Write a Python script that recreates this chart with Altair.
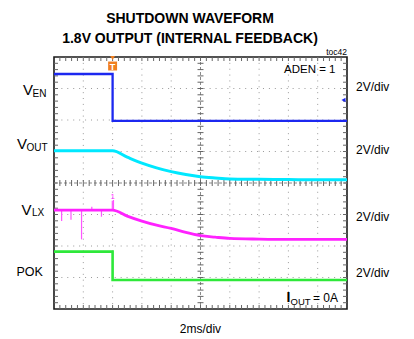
import altair as alt
import pandas as pd

# ---- data (x in divisions 0..10, y in divisions 0..8) ----
ven_t = [0.0, 2.0, 2.0, 10.0]
ven_v = [7.46, 7.46, 5.97, 5.97]

vout_t = [0.0, 2.0, 2.5, 3.0, 3.5, 4.0, 4.5, 5.0, 5.5, 6.0, 7.0, 8.0, 9.0, 10.0]
vout_v = [5.02, 5.02, 4.82, 4.63, 4.48, 4.36, 4.27, 4.20, 4.16, 4.13, 4.12, 4.11, 4.10, 4.10]

vlx_t = [0.0, 2.0, 2.5, 3.0, 3.5, 4.0, 4.5, 5.0, 5.5, 6.0, 7.0, 8.0, 9.0, 10.0]
vlx_v = [3.14, 3.14, 2.95, 2.79, 2.66, 2.56, 2.43, 2.33, 2.28, 2.24, 2.22, 2.21, 2.21, 2.21]

spike_t = [0.26, 0.58, 0.94, 1.29, 1.62, 1.99, 2.03]
spike_end = [2.79, 2.83, 2.21, 3.25, 2.93, 3.44, 3.46]
spike_base = 3.14

pok_t = [0.0, 2.0, 2.0, 10.0]
pok_v = [1.82, 1.82, 0.92, 0.92]

grid_x = [1, 2, 3, 4, 6, 7, 8, 9]
grid_y = [1, 2, 3, 5, 6, 7]
minor_x = [round(i * 0.2, 1) for i in range(1, 50)]
minor_y = [round(i * 0.2, 1) for i in range(1, 40)]

W, H = 293, 252
FONT = "Liberation Sans, Arial, sans-serif"

xs = alt.Scale(domain=[0, 10], nice=False, zero=False)
ys = alt.Scale(domain=[0, 8], nice=False, zero=False)


def trace(t, v, color, sw=2.6):
    df = pd.DataFrame({"t": t, "v": v, "i": list(range(len(t)))})
    return alt.Chart(df).mark_line(color=color, strokeWidth=sw, interpolate="monotone").encode(
        x=alt.X("t:Q", scale=xs, axis=None),
        y=alt.Y("v:Q", scale=ys, axis=None),
        order="i:Q",
    )


gx = alt.Chart(pd.DataFrame({"g": grid_x})).mark_rule(color="#9a9a9a", strokeWidth=1, strokeDash=[1, 4.86]).encode(
    x=alt.X("g:Q", scale=xs, axis=None))
gy = alt.Chart(pd.DataFrame({"g": grid_y})).mark_rule(color="#9a9a9a", strokeWidth=1, strokeDash=[1, 4.93]).encode(
    y=alt.Y("g:Q", scale=ys, axis=None))
cx = alt.Chart(pd.DataFrame({"g": [5]})).mark_rule(color="#8a8a8a", strokeWidth=1, strokeDash=[3, 2]).encode(
    x=alt.X("g:Q", scale=xs, axis=None))
cy = alt.Chart(pd.DataFrame({"g": [4]})).mark_rule(color="#8a8a8a", strokeWidth=1, strokeDash=[3, 2]).encode(
    y=alt.Y("g:Q", scale=ys, axis=None))

mx = pd.DataFrame({"m": minor_x})
my = pd.DataFrame({"m": minor_y})
tick_col = "#666666"
ticks = []
for a, b in [(0, 4), (H - 4, H), (H / 2 - 3, H / 2 + 3)]:
    ticks.append(alt.Chart(mx).mark_rule(color=tick_col, strokeWidth=1).encode(
        x=alt.X("m:Q", scale=xs, axis=None), y=alt.value(a), y2=alt.value(b)))
for a, b in [(0, 4), (W - 4, W), (W / 2 - 3, W / 2 + 3)]:
    ticks.append(alt.Chart(my).mark_rule(color=tick_col, strokeWidth=1).encode(
        y=alt.Y("m:Q", scale=ys, axis=None), x=alt.value(a), x2=alt.value(b)))

spk = alt.Chart(pd.DataFrame({"t": spike_t, "e": spike_end, "b": [spike_base] * len(spike_t)})).mark_rule(
    color="#ff55ff", strokeWidth=1.2).encode(
    x=alt.X("t:Q", scale=xs, axis=None), y=alt.Y("b:Q", scale=ys, axis=None), y2="e:Q")

layers = [gx, gy, cx, cy] + ticks + [
    trace(ven_t, ven_v, "#1c28f0", 2.3),
    trace(vout_t, vout_v, "#00e8ff", 3.0),
    spk,
    trace(vlx_t, vlx_v, "#ff22ff", 2.8),
    trace(pok_t, pok_v, "#2ee83a", 2.6),
]


def txt(s, x, y, size=12, align="left", weight="normal", color="black", baseline="middle", font=FONT):
    return alt.Chart(pd.DataFrame({"s": [s]})).mark_text(
        align=align, baseline=baseline, fontSize=size, fontWeight=weight, color=color, font=font
    ).encode(text="s:N", x=alt.value(x), y=alt.value(y))


# trigger marker and channel marker
trig = alt.Chart(pd.DataFrame({"t": [2.0]}))
layers += [
    trig.mark_point(shape="triangle-down", filled=True, color="#f07f20", size=22, opacity=1).encode(
        x=alt.X("t:Q", scale=xs, axis=None), y=alt.value(1)),
    trig.mark_square(color="#f07f20", size=80, opacity=1).encode(
        x=alt.X("t:Q", scale=xs, axis=None), y=alt.value(9)),
    trig.mark_text(text="T", color="white", fontSize=9, fontWeight="bold", font=FONT).encode(
        x=alt.X("t:Q", scale=xs, axis=None), y=alt.value(9.5)),
    trig.mark_text(text="1", color="#ff33ff", fontSize=8, font=FONT).encode(
        x=alt.X("t:Q", scale=xs, axis=None), y=alt.value(140)),
    alt.Chart(pd.DataFrame({"t": [9.88]})).mark_point(shape="triangle-left", filled=True, color="#1c28f0",
                                                      size=22, opacity=1).encode(
        x=alt.X("t:Q", scale=xs, axis=None), y=alt.value(43)),
]

# texts
layers += [
    txt("SHUTDOWN WAVEFORM", 136, -34, size=14, align="center", weight="bold", baseline="alphabetic"),
    txt("1.8V OUTPUT (INTERNAL FEEDBACK)", 136, -14, size=14, align="center", weight="bold", baseline="alphabetic"),
    txt("toc42", 293, -2, size=8.5, align="right", baseline="alphabetic"),
    txt("ADEN = 1", 230, 16, size=11.5, baseline="alphabetic"),
    txt("2V/div", 302, 30, size=12),
    txt("2V/div", 302, 93, size=12),
    txt("2V/div", 302, 160, size=12),
    txt("2V/div", 302, 216, size=12),
    txt("V", -31, 32.5, size=15),
    txt("EN", -21.5, 36.5, size=10),
    txt("V", -37, 86.7, size=15),
    txt("OUT", -27.5, 90.5, size=10),
    txt("V", -32.5, 152.5, size=15),
    txt("LX", -22, 156.3, size=10),
    txt("POK", -37.5, 214.7, size=12.5),
    txt("I", 232.5, 241, size=14, weight="bold"),
    txt("OUT", 236.5, 245, size=9.5),
    txt("= 0A", 259, 241, size=12),
    txt("2ms/div", 146.4, 272, size=12, align="center"),
]

chart = alt.layer(*layers).properties(
    width=W, height=H,
    autosize=alt.AutoSizeParams(type="none"),
    padding={"left": 46, "top": 49, "right": 59, "bottom": 28},
).configure_view(stroke="#1a1a1a", strokeWidth=1.6)

chart.save("out.html", embed_options={"renderer": "svg", "actions": False})
